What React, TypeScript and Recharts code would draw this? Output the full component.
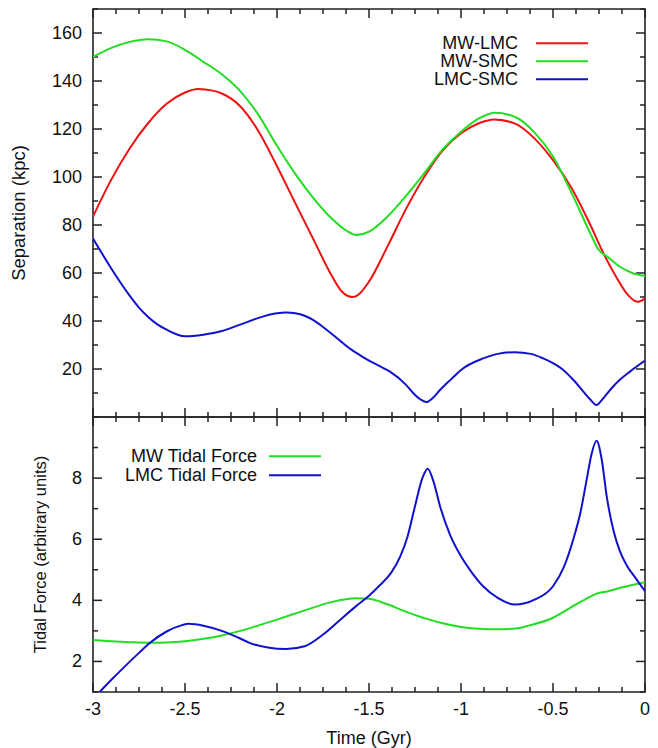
import React from 'react';
import { LineChart, Line, XAxis, YAxis, Legend, ReferenceArea, ReferenceLine } from 'recharts';

const FONT = '"Liberation Sans", Arial, Helvetica, sans-serif';
const INK = '#222222';
const RED = '#ee1111';
const GREEN = '#22dd22';
const BLUE = '#1111cc';

// axis ticks
const timeTicks = [-3, -2.875, -2.75, -2.625, -2.5, -2.375, -2.25, -2.125, -2, -1.875, -1.75, -1.625,
  -1.5, -1.375, -1.25, -1.125, -1, -0.875, -0.75, -0.625, -0.5, -0.375, -0.25, -0.125, 0];
const timeLabels = [-3, -2.5, -2, -1.5, -1, -0.5, 0];
const sepTicks = [10, 20, 30, 40, 50, 60, 70, 80, 90, 100, 110, 120, 130, 140, 150, 160, 170];
const sepLabels = [20, 40, 60, 80, 100, 120, 140, 160];
const tideTicks = [1, 2, 3, 4, 5, 6, 7, 8, 9, 10];
const tideLabels = [2, 4, 6, 8];

// separation (kpc) vs time (Gyr)
const mwLmcT = [-3, -2.9, -2.8, -2.7, -2.6, -2.5, -2.43, -2.35, -2.3, -2.2, -2.1, -2.0, -1.9, -1.8, -1.7, -1.65,
  -1.59, -1.55, -1.5, -1.4, -1.3, -1.2, -1.1, -1.0, -0.9, -0.82, -0.7, -0.6, -0.5, -0.4, -0.3, -0.226, -0.15,
  -0.1, -0.04, 0];
const mwLmcV = [83.5, 99, 112, 122.5, 130.5, 135.2, 136.7, 136, 134.8, 129.5, 119, 104.5, 89, 73.7, 58.5, 52.5,
  50, 51.5, 56.4, 71, 86.5, 100, 111, 118.2, 122.5, 124, 122, 116, 107, 95.5, 80.5, 68.2, 57.5,
  51.5, 48, 49.4];

const mwSmcT = [-3, -2.9, -2.8, -2.7, -2.6, -2.5, -2.4, -2.3, -2.2, -2.1, -2.0, -1.9, -1.8, -1.7, -1.62, -1.57,
  -1.5, -1.4, -1.3, -1.2, -1.1, -1.0, -0.9, -0.815, -0.7, -0.6, -0.5, -0.4, -0.3, -0.254, -0.2, -0.136, -0.07, 0];
const mwSmcV = [150, 153.8, 156.3, 157.4, 156.5, 153, 148, 142.8, 135.8, 125.8, 113, 101.2, 91, 82.5, 77.5, 75.8,
  77.2, 83.5, 92, 101.5, 111.5, 118.9, 124.5, 126.8, 124.8, 118.5, 108.5, 93.5, 77, 69.9, 66.5, 62.6, 60, 58.75];

const lmcSmcT = [-3, -2.9, -2.8, -2.75, -2.7, -2.65, -2.6, -2.5, -2.4, -2.3, -2.2, -2.1, -2.0, -1.95, -1.9, -1.85,
  -1.8, -1.75, -1.7, -1.65, -1.6, -1.55, -1.5, -1.45, -1.386, -1.3, -1.259, -1.22, -1.187, -1.155, -1.114, -1.05,
  -1.0, -0.879, -0.8, -0.707, -0.62, -0.553, -0.5, -0.444, -0.39, -0.335, -0.3, -0.263, -0.23, -0.19, -0.14,
  -0.082, 0];
const lmcSmcV = [74.4, 61.8, 50.5, 45.6, 41.7, 38.6, 36.4, 33.6, 34.3, 35.8, 38.5, 41.3, 43.2, 43.5, 43.2, 42.2,
  40.3, 37.5, 34.5, 31.3, 28.3, 25.8, 23.5, 21.5, 18.9, 13.5, 9.9, 7.3, 6.2, 7.8, 11.25, 16,
  19.6, 24.4, 26.3, 27, 26.3, 24.4, 22.4, 19.6, 15.5, 10.6, 7.5, 5, 7.5, 11.25, 15.3,
  18.9, 23.5];

// tidal force (arbitrary units) vs time (Gyr)
const mwTideT = [-3, -2.9, -2.8, -2.69, -2.6, -2.5, -2.4, -2.3, -2.2, -2.1, -2.0, -1.9, -1.8, -1.7, -1.57, -1.5,
  -1.4, -1.3, -1.19, -1.1, -1.0, -0.9, -0.81, -0.7, -0.64, -0.5, -0.4, -0.32, -0.263, -0.2, -0.136, -0.07, 0];
const mwTideV = [2.7, 2.66, 2.63, 2.61, 2.62, 2.66, 2.74, 2.85, 3.0, 3.18, 3.37, 3.57, 3.77, 3.95, 4.07, 4.05,
  3.87, 3.63, 3.4, 3.25, 3.13, 3.07, 3.05, 3.08, 3.16, 3.43, 3.78, 4.05, 4.22, 4.3, 4.41, 4.5, 4.59];

const lmcTideT = [-3, -2.9, -2.835, -2.75, -2.69, -2.6, -2.52, -2.48, -2.4, -2.3, -2.2, -2.15, -2.05, -1.95, -1.85,
  -1.75, -1.65, -1.57, -1.5, -1.44, -1.38, -1.33, -1.29, -1.25, -1.21, -1.181, -1.15, -1.114, -1.06, -1.0, -0.94,
  -0.88, -0.8, -0.707, -0.6, -0.5, -0.44, -0.39, -0.35, -0.317, -0.29, -0.263, -0.235, -0.208, -0.17, -0.136,
  -0.1, -0.05, 0];
const lmcTideV = [0.77, 1.4, 1.79, 2.28, 2.61, 2.98, 3.18, 3.23, 3.17, 3.0, 2.75, 2.61, 2.46, 2.41, 2.5,
  2.88, 3.4, 3.81, 4.15, 4.5, 4.9, 5.44, 6.1, 7.08, 8.0, 8.31, 7.9, 7.08, 6.15, 5.44, 4.9,
  4.46, 4.08, 3.86, 4.02, 4.46, 5.1, 5.99, 6.9, 7.95, 8.8, 9.22, 8.6, 7.4, 6.25, 5.6,
  5.15, 4.72, 4.3];

const zip = (t: number[], v: number[]) => t.map((x, i) => ({ t: x, v: v[i] }));
const isMajor = (v: number, majors: number[]) => majors.some((m) => Math.abs(m - v) < 1e-9);

// plot area is 552px wide for 3 Gyr; tick marks point inward, longer where labelled
const GYR_PER_PX = 3 / 552;
const MAJOR_PX = 9;
const MINOR_PX = 5;

const frameTicks = (yDom: number[], yTicks: number[], yMajors: number[], yPerPx: number) => {
  const s = { stroke: INK, strokeWidth: 1.5, ifOverflow: 'visible' as const };
  const out: React.ReactNode[] = [];
  timeTicks.forEach((t) => {
    const len = (isMajor(t, timeLabels) ? MAJOR_PX : MINOR_PX) * yPerPx;
    out.push(<ReferenceLine key={`b${t}`} segment={[{ x: t, y: yDom[0] }, { x: t, y: yDom[0] + len }]} {...s} />);
    out.push(<ReferenceLine key={`t${t}`} segment={[{ x: t, y: yDom[1] }, { x: t, y: yDom[1] - len }]} {...s} />);
  });
  yTicks.forEach((v) => {
    const len = (isMajor(v, yMajors) ? MAJOR_PX : MINOR_PX) * GYR_PER_PX;
    out.push(<ReferenceLine key={`l${v}`} segment={[{ x: -3, y: v }, { x: -3 + len, y: v }]} {...s} />);
    out.push(<ReferenceLine key={`r${v}`} segment={[{ x: 0, y: v }, { x: -len, y: v }]} {...s} />);
  });
  return out;
};

// tick labels only; marks come from frameTicks
const tickText = (side: 'bottom' | 'left', labels: number[]) => (p: any) => {
  const v = p.payload.value as number;
  if (!isMajor(v, labels)) return <g />;
  const txt = { fontFamily: FONT, fontSize: 18, fill: '#111' };
  return side === 'bottom'
    ? <text x={p.x} y={p.y + 17} textAnchor="middle" dominantBaseline="central" {...txt}>{v}</text>
    : <text x={p.x - 11} y={p.y} textAnchor="end" dominantBaseline="central" {...txt}>{v}</text>;
};

const yTitle = (text: string, dx: number, size: number) => (p: any) => {
  const vb = p.viewBox ?? { x: 0, y: 0, width: 0, height: 0 };
  const cx = vb.x + dx;
  const cy = vb.y + vb.height / 2;
  return (
    <text x={cx} y={cy} transform={`rotate(-90 ${cx} ${cy})`} textAnchor="middle" dominantBaseline="central"
      fontFamily={FONT} fontSize={size} fill="#111">{text}</text>
  );
};

const xTitle = (text: string, dy: number) => (p: any) => {
  const vb = p.viewBox ?? { x: 0, y: 0, width: 0, height: 0 };
  return (
    <text x={vb.x + vb.width / 2} y={vb.y + dy} textAnchor="middle" dominantBaseline="central"
      fontFamily={FONT} fontSize={18} fill="#111">{text}</text>
  );
};

const legendBox = (items: { name: string; color: string }[], textW: number, gap: number, rowH: number) => () => (
  <div style={{ fontFamily: FONT, fontSize: 18, color: '#111' }}>
    {items.map((e) => (
      <div key={e.name} style={{ display: 'flex', alignItems: 'center', height: rowH }}>
        <span style={{ width: textW, textAlign: 'right', lineHeight: `${rowH}px`, whiteSpace: 'nowrap' }}>{e.name}</span>
        <svg width={gap + 52} height={rowH}>
          <line x1={gap} x2={gap + 52} y1={rowH / 2} y2={rowH / 2} stroke={e.color} strokeWidth={2} />
        </svg>
      </div>
    ))}
  </div>
);

const frame = { fill: 'none', fillOpacity: 0, stroke: INK, strokeWidth: 1.6 };

export default function App() {
  return (
    <div style={{ position: 'absolute', left: 0, top: 0, width: 658, height: 748, background: '#fff' }}>
      <div style={{ position: 'absolute', left: 0, top: 0 }}>
        <LineChart width={658} height={420} margin={{ top: 9, right: 13, bottom: 3, left: 0 }}>
          <XAxis dataKey="t" type="number" domain={[-3, 0]} allowDataOverflow ticks={timeTicks} hide />
          <YAxis type="number" domain={[0, 170]} allowDataOverflow ticks={sepTicks} interval={0} width={93}
            tickSize={0} tickMargin={0} tickLine={false} axisLine={false} tick={tickText('left', sepLabels)}
            label={yTitle('Separation (kpc)', 18, 18.5)} />
          <ReferenceArea x1={-3} x2={0} y1={0} y2={170} {...frame} />
          {frameTicks([0, 170], sepTicks, sepLabels, 170 / 408)}
          <Legend layout="vertical" align="center" verticalAlign="middle"
            wrapperStyle={{ left: 398, top: 33.5, width: 200 }}
            content={legendBox([{ name: 'MW-LMC', color: RED }, { name: 'MW-SMC', color: GREEN }, { name: 'LMC-SMC', color: BLUE }], 120, 18, 18.3)} />
          <Line data={zip(mwLmcT, mwLmcV)} dataKey="v" name="MW-LMC" type="monotone" stroke={RED} strokeWidth={2}
            dot={false} isAnimationActive={false} />
          <Line data={zip(mwSmcT, mwSmcV)} dataKey="v" name="MW-SMC" type="monotone" stroke={GREEN} strokeWidth={2}
            dot={false} isAnimationActive={false} />
          <Line data={zip(lmcSmcT, lmcSmcV)} dataKey="v" name="LMC-SMC" type="monotone" stroke={BLUE} strokeWidth={2}
            dot={false} isAnimationActive={false} />
        </LineChart>
      </div>
      <div style={{ position: 'absolute', left: 0, top: 400 }}>
        <LineChart width={658} height={348} margin={{ top: 17, right: 13, bottom: 0, left: 0 }}>
          <XAxis dataKey="t" type="number" domain={[-3, 0]} allowDataOverflow ticks={timeTicks} interval={0}
            height={56} tickSize={0} tickMargin={0} tickLine={false} axisLine={false}
            tick={tickText('bottom', timeLabels)} label={xTitle('Time (Gyr)', 46)} />
          <YAxis type="number" domain={[1, 10]} allowDataOverflow ticks={tideTicks} interval={0} width={93}
            tickSize={0} tickMargin={0} tickLine={false} axisLine={false} tick={tickText('left', tideLabels)}
            label={yTitle('Tidal Force (arbitrary units)', 40, 16.5)} />
          <ReferenceArea x1={-3} x2={0} y1={1} y2={10} {...frame} />
          {frameTicks([1, 10], tideTicks, tideLabels, 9 / 275)}
          <Legend layout="vertical" align="center" verticalAlign="middle"
            wrapperStyle={{ left: 97, top: 47.3, width: 240 }}
            content={legendBox([{ name: 'MW Tidal Force', color: GREEN }, { name: 'LMC Tidal Force', color: BLUE }], 160, 12, 18.3)} />
          <Line data={zip(mwTideT, mwTideV)} dataKey="v" name="MW Tidal Force" type="monotone" stroke={GREEN}
            strokeWidth={2} dot={false} isAnimationActive={false} />
          <Line data={zip(lmcTideT, lmcTideV)} dataKey="v" name="LMC Tidal Force" type="monotone" stroke={BLUE}
            strokeWidth={2} dot={false} isAnimationActive={false} />
        </LineChart>
      </div>
    </div>
  );
}
